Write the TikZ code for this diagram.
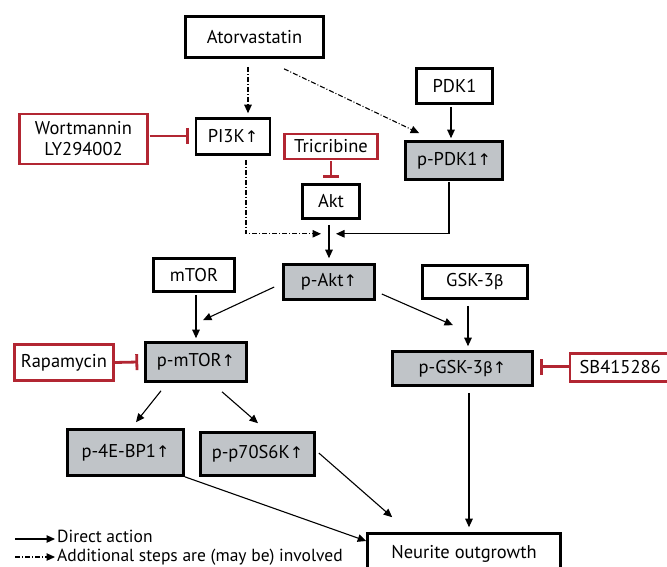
\documentclass[tikz,border=0pt]{standalone}
\usepackage{fontspec}
\setmainfont{PT Sans}
\newfontfamily\symf{DejaVu Sans}
\usetikzlibrary{arrows.meta,calc}
\definecolor{inhred}{RGB}{178,38,50}
\definecolor{boxgray}{RGB}{192,196,200}
\newcommand{\upar}{{\symf\fontsize{16}{18}\selectfont ↑}}
\newcommand{\betasym}{{\symf\fontsize{15.5}{18}\selectfont β}}
\begin{document}
\begin{tikzpicture}[x=1pt,y=-1pt,
  font=\fontsize{18.5}{21}\selectfont,
  box/.style={draw,line width=2.6pt,inner sep=0pt,align=center},
  pbox/.style={box,fill=boxgray},
  rbox/.style={draw=inhred,line width=2.4pt,inner sep=0pt,align=center},
  arr/.style={line width=1.1pt,-{Triangle[length=8.5pt,width=7.5pt]}},
  dd/.style={arr,dash pattern=on 5pt off 2pt on 1pt off 2pt},
  inh/.style={draw=inhred,line width=2.8pt,-{Bar[width=16pt,line width=2.8pt]}},
  legtext/.style={anchor=west,inner sep=0pt,font=\fontsize{17.5}{19}\selectfont,text height=12pt,text depth=3.5pt}
]
\useasboundingbox (0,0) rectangle (667,567);
\fill[white] (0,0) rectangle (667,567);

% nodes
\node[box, minimum width=138pt, minimum height=41pt] (atorva) at (254.5,37) {Atorvastatin};
\node[box, minimum width=76pt, minimum height=35pt] (pdk1) at (454.5,86) {PDK1};
\node[rbox, minimum width=128pt, minimum height=50pt] (wort) at (83.5,139) {Wortmannin\\LY294002};
\node[box, minimum width=74pt, minimum height=36pt] (pi3k) at (233,136.5) {PI3K\upar};
\node[rbox, minimum width=93pt, minimum height=25pt] (tric) at (331,146.5) {Tricribine};
\node[pbox, minimum width=97pt, minimum height=38pt] (ppdk1) at (454,160.5) {p-PDK1\upar};
\node[box, minimum width=57pt, minimum height=34pt] (akt) at (331,201.5) {Akt};
\node[pbox, minimum width=91pt, minimum height=35pt] (pakt) at (329,282) {p-Akt\upar};
\node[box, minimum width=81pt, minimum height=33pt] (mtor) at (194,275) {mTOR};
\node[box, minimum width=105pt, minimum height=33pt] (gsk) at (475,282) {GSK-3\betasym};
\node[rbox, minimum width=99pt, minimum height=36pt] (rapa) at (64,362.5) {Rapamycin};
\node[pbox, minimum width=101pt, minimum height=39pt] (pmtor) at (196,362) {p-mTOR\upar};
\node[pbox, minimum width=140pt, minimum height=34pt] (pgsk) at (462.5,368.5) {p-GSK-3\betasym\upar};
\node[rbox, minimum width=100pt, minimum height=28pt, anchor=west] (sb) at (569,367.5) {SB415286};
\node[pbox, minimum width=116pt, minimum height=46pt] (p4e) at (125.5,452.5) {p-4E-BP1\upar};
\node[pbox, minimum width=114pt, minimum height=43pt] (p70) at (257.5,454) {p-p70S6K\upar};
\node[box, minimum width=193pt, minimum height=40pt] (neur) at (464,553.5) {Neurite outgrowth};

% connectors
\draw[dd] ($(atorva.south)+(-6.5,8)$) -- ($(pi3k.north)+(15,-4)$);
\draw[dd] ($(atorva.south)+(29.5,10)$) -- ($(ppdk1.north west)+(15,-7)$);
\draw[arr] ($(pdk1.south)+(-3.5,2)$) -- ($(ppdk1.north)+(-3,-2)$);
\draw[inh] ($(wort.east)+(1,-3)$) -- ($(pi3k.west)+(-6,-0.5)$);
\draw[inh] ($(tric.south)+(0,1)$) -- ($(akt.north)+(0,-5)$);
\coordinate (jn) at ($(akt.south)+(-2,14)$);
\draw[dd] ($(pi3k.south)+(13,4)$) |- ($(jn)+(-8,0)$);
\draw[arr] ($(ppdk1.south)+(-5,1)$) |- ($(jn)+(7,0)$);
\draw[arr] ($(akt.south)+(-2,5)$) -- ($(pakt.north)+(0,-5)$);
\draw[arr] ($(pakt.west)+(-8,5)$) -- ($(pmtor.north)+(7,-21)$);
\draw[arr] ($(pakt.east)+(6,12)$) -- ($(pgsk.north)+(-9.5,-25)$);
\draw[arr] ($(mtor.south)+(2,2)$) -- ($(pmtor.north)+(0,-3)$);
\draw[arr] ($(gsk.south)+(-7,6)$) -- ($(pgsk.north)+(5.5,-4)$);
\draw[inh] (rapa.east) -- ($(pmtor.west)+(-6,0)$);
\draw[inh] ($(sb.west)+(0,-1)$) -- ($(pgsk.east)+(6,-2)$);
\draw[arr] ($(pmtor.south)+(-35,8)$) -- ($(p4e.north)+(10.5,-6)$);
\draw[arr] ($(pmtor.south)+(26,9)$) -- ($(p70.north)+(0.5,-8)$);
\draw[arr] (p4e.south east) -- ($(neur.west)+(0,-12.5)$);
\draw[arr] ($(p70.east)+(3,-1)$) -- ($(neur.north west)+(26,-15)$);
\draw[arr] ($(pgsk.south)+(6.5,6)$) -- ($(neur.north)+(5,-5)$);

% legend
\coordinate (l1s) at (15,539);
\coordinate (l1e) at (55,539);
\coordinate (l2s) at (15,557);
\coordinate (l2e) at (55,557);
\draw[arr] (l1s) -- (l1e);
\draw[dd] (l2s) -- (l2e);
\node[legtext] (l1t) at (57,538.5) {Direct action};
\node[legtext] (l2t) at (57,557) {Additional steps are (may be) involved};
\end{tikzpicture}
\end{document}
